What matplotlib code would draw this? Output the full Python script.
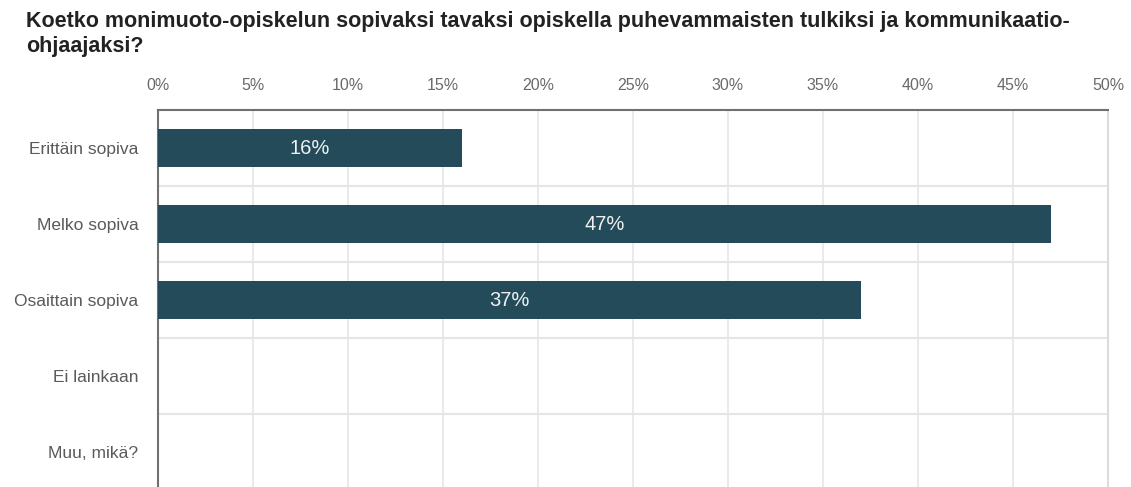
import matplotlib
matplotlib.use("Agg")
import matplotlib.pyplot as plt
from matplotlib.ticker import FuncFormatter

plt.rcParams['font.family'] = ['Liberation Sans', 'DejaVu Sans']

title = "Koetko monimuoto-opiskelun sopivaksi tavaksi opiskella puhevammaisten tulkiksi ja kommunikaatio-\nohjaajaksi?"
categories = ["Erittäin sopiva", "Melko sopiva", "Osaittain sopiva", "Ei lainkaan", "Muu, mikä?"]
values = [16, 47, 37, 0, 0]
value_labels = ["16%", "47%", "37%", "", ""]
xticks = [0, 5, 10, 15, 20, 25, 30, 35, 40, 45, 50]

bar_color = "#234b59"
grid_color = "#e6e6e6"

fig = plt.figure(figsize=(11.31, 4.87), dpi=100)
ax = fig.add_axes([158/1131, -3/487, 950/1131, 380/487])

y = list(range(len(categories)))
bars = ax.barh(y, values, height=0.51, color=bar_color, zorder=3)
for b, lab in zip(bars, value_labels):
    if lab:
        ax.text(b.get_x() + b.get_width() / 2, b.get_y() + b.get_height() / 2, lab,
                ha='center', va='center', color='#f0f0f0', fontsize=14.5, zorder=4)

ax.set_xlim(0, 50)
ax.set_ylim(len(categories) - 0.5, -0.5)
ax.set_xticks(xticks)
ax.xaxis.set_major_formatter(FuncFormatter(lambda v, p: f"{int(v)}%"))
ax.xaxis.tick_top()
ax.tick_params(axis='x', length=0, pad=12, labelsize=11.5, labelcolor='#6a6a6a')
ax.set_yticks(y)
ax.set_yticklabels(categories)
ax.tick_params(axis='y', length=0, pad=14, labelsize=12.5, labelcolor='#5a5a5a')

ax.set_yticks([i + 0.5 for i in range(len(categories) - 1)], minor=True)
ax.tick_params(axis='y', which='minor', length=0)
ax.grid(axis='x', which='major', color=grid_color, linewidth=1.2, zorder=0)
ax.grid(axis='y', which='minor', color=grid_color, linewidth=1.5, zorder=0)
ax.grid(axis='y', which='major', visible=False)

ax.spines['left'].set_color('#707070')
ax.spines['left'].set_linewidth(1.5)
ax.spines['top'].set_color('#707070')
ax.spines['top'].set_linewidth(1.5)
ax.spines['right'].set_color('#dcdcdc')
ax.spines['right'].set_linewidth(1.5)
ax.spines['bottom'].set_visible(False)

fig.text(26/1131, 1 - 11/487, title, ha='left', va='top', fontsize=15.5,
         fontweight='bold', color='#222222', linespacing=1.25)

fig.savefig("out.png", dpi=100, facecolor='white')
